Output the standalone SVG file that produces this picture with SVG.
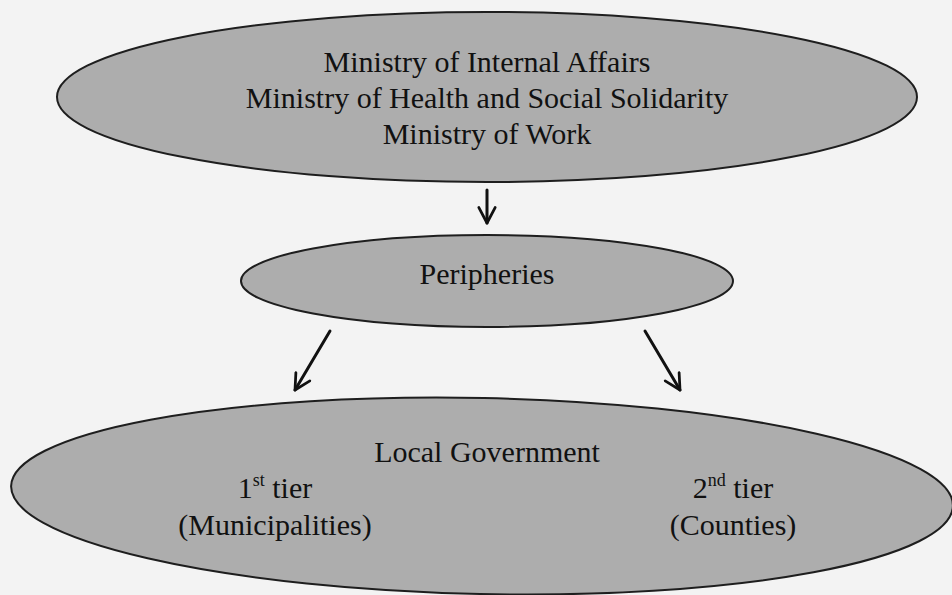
<svg xmlns="http://www.w3.org/2000/svg" width="952" height="595" viewBox="0 0 952 595">
  <style>
    .node { fill: #adadad; stroke: #1e1e1e; stroke-width: 2; }
    .lbl { font-family: "Liberation Serif", "Times New Roman", serif; font-size: 30px; fill: #111; text-anchor: middle; }
    .sup { font-size: 18px; }
    .conn { stroke: #111; stroke-width: 3; fill: none; stroke-linecap: round; }
  </style>
  <defs>
    <marker id="vhead" viewBox="0 0 12 12" refX="10.5" refY="6" markerWidth="6.5" markerHeight="6.5" markerUnits="strokeWidth" orient="auto">
      <path d="M1,1 L10.5,6 L1,11" fill="none" stroke="#111" stroke-width="1.7" stroke-linecap="round" stroke-linejoin="round"/>
    </marker>
  </defs>

  <rect width="952" height="595" fill="#f3f3f3"/>

  <!-- central ministries -->
  <g id="ministries">
    <ellipse class="node" cx="487" cy="97" rx="430" ry="85"/>
    <text class="lbl" x="487" y="72">Ministry of Internal Affairs</text>
    <text class="lbl" x="487" y="108">Ministry of Health and Social Solidarity</text>
    <text class="lbl" x="487" y="144">Ministry of Work</text>
  </g>

  <!-- regional level -->
  <g id="peripheries">
    <ellipse class="node" cx="487" cy="281" rx="246" ry="46"/>
    <text class="lbl" x="487" y="284">Peripheries</text>
  </g>

  <!-- local government, two tiers -->
  <g id="local-government">
    <ellipse class="node" cx="482" cy="496" rx="471" ry="98" transform="rotate(1.2 482 496)"/>
    <text class="lbl" x="487" y="462">Local Government</text>
    <text class="lbl" x="275" y="498">1<tspan class="sup" dy="-12">st</tspan><tspan dy="12"> tier</tspan></text>
    <text class="lbl" x="275" y="535">(Municipalities)</text>
    <text class="lbl" x="733" y="498">2<tspan class="sup" dy="-12">nd</tspan><tspan dy="12"> tier</tspan></text>
    <text class="lbl" x="733" y="535">(Counties)</text>
  </g>

  <!-- connectors -->
  <g id="connectors">
    <line class="conn" x1="487" y1="190" x2="487" y2="223" marker-end="url(#vhead)"/>
    <line class="conn" x1="330" y1="331" x2="295" y2="390" marker-end="url(#vhead)"/>
    <line class="conn" x1="645" y1="331" x2="680" y2="390" marker-end="url(#vhead)"/>
  </g>
</svg>
